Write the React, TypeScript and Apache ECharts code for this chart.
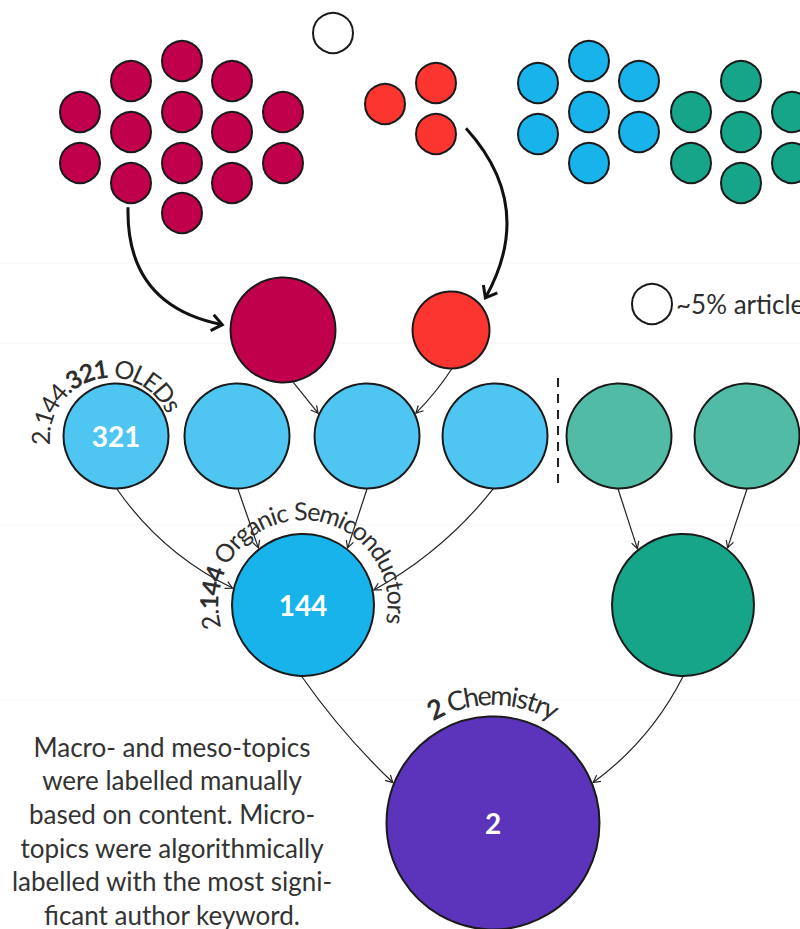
import React, { useEffect, useRef } from "react";
import * as echarts from "echarts";

// ---------- DATA ----------
// micro-topic clusters (small circles)
const crimsonX = [182, 131, 232, 80, 182, 283, 131, 232, 80, 182, 283, 131, 232, 182];
const crimsonY = [61, 81, 81, 112, 112, 112, 132, 132, 163, 163, 163, 183, 183, 213];
const redX = [385, 436, 436];
const redY = [104, 83, 134];
const blueX = [538, 589, 639, 589, 538, 639, 589];
const blueY = [83, 61, 81, 112, 134, 132, 163];
const greenX = [691, 691, 741, 741, 741, 792, 792];
const greenY = [112, 163, 81, 132, 183, 112, 163];
const whiteX = [333];
const whiteY = [33];
const smallR = 20.5;

// macro / meso topics
const topicIds = ["crimsonBig", "redBig", "oleds", "mid2", "mid3", "mid4", "green1", "green2", "semis", "greenBig", "chem"];
const topicX = [283, 451, 116, 237, 367, 495, 619, 747, 303, 683, 493];
const topicY = [330, 330, 436, 436, 436, 436, 436, 436, 605, 605, 823];
const topicR = [53, 39, 53, 53, 53, 53, 53, 53, 71.5, 71.5, 107];
const topicGroup = ["crimson", "red", "lightBlue", "lightBlue", "lightBlue", "lightBlue", "lightGreen", "lightGreen", "blue", "green", "purple"];
const topicLabel = ["", "", "321", "", "", "", "", "", "144", "", "2"];

// links (arrows)
const linkFrom = ["crimson-11", "red-2", "crimsonBig", "redBig", "oleds", "mid2", "mid3", "mid4", "green1", "green2", "semis", "greenBig"];
const linkTo = ["crimsonBig", "redBig", "mid3", "mid3", "semis", "semis", "semis", "semis", "greenBig", "greenBig", "chem", "chem"];
const linkStartAngle = [97, -11, 79, 89, 89, 89, 90, 92, 91, 90, 91, 90];
const linkEndAngle = [185, -43, 205, -25, 193.5, 232, -52, -12, 231, -52, 202, -22];
const linkBend = [0.42, -0.36, 0, -0.05, 0.13, 0, 0, -0.1, 0, 0, 0.05, -0.12];
const linkHeavy = [1, 1, 0, 0, 0, 0, 0, 0, 0, 0, 0, 0];

// curved labels
const arcLabelNode = ["oleds", "semis", "chem"];
const arcLabelParts: [string, boolean][][] = [
  [["2.144.", false], ["321", true], [" OLEDs", false]],
  [["2.", false], ["144", true], [" Organic Semiconductors", false]],
  [["2", true], [" Chemistry", false]],
];

const legendText = "~5% articles";
const noteLines = [
  "Macro- and meso-topics",
  "were labelled manually",
  "based on content. Micro-",
  "topics were algorithmically",
  "labelled with the most signi-",
  "ficant author keyword.",
];

// ---------- STYLE ----------
const colors: Record<string, string> = {
  crimson: "#c1004b",
  red: "#fc3531",
  blue: "#19b3eb",
  green: "#17a589",
  white: "#ffffff",
  lightBlue: "#4fc5f1",
  lightGreen: "#51bba6",
  purple: "#5c34bc",
};
const FONT = "Lato, 'Open Sans', sans-serif";
const TEXT = "#2e2e2e";

type Node = { id: string; x: number; y: number; r: number; group: string; label: string };

function buildNodes(): Node[] {
  const out: Node[] = [];
  const add = (name: string, xs: number[], ys: number[]) =>
    xs.forEach((x, i) => out.push({ id: `${name}-${i}`, x, y: ys[i], r: smallR, group: name, label: "" }));
  add("white", whiteX, whiteY);
  add("crimson", crimsonX, crimsonY);
  add("red", redX, redY);
  add("blue", blueX, blueY);
  add("green", greenX, greenY);
  topicIds.forEach((id, i) =>
    out.push({ id, x: topicX[i], y: topicY[i], r: topicR[i], group: topicGroup[i], label: topicLabel[i] })
  );
  return out;
}

const arcLayout = [
  { dx: -5, dy: 3, R: 62.5, start: 175, end: 336, size: 25 },
  { dx: 0, dy: 0, R: 86, start: 165, end: 372, size: 25 },
  { dx: 0, dy: 0, R: 119, start: 240, end: 300, size: 27 },
];

export default function App() {
  const ref = useRef<HTMLDivElement>(null);
  useEffect(() => {
    if (!ref.current) return;
    const chart = echarts.init(ref.current, undefined, { renderer: "svg" });
    const nodes = buildNodes();
    const nodeMap: Record<string, Node> = {};
    nodes.forEach((n) => (nodeMap[n.id] = n));
    const rad = (d: number) => (d * Math.PI) / 180;

    chart.setOption({
      animation: false,
      backgroundColor: "#ffffff",
      grid: { left: 0, right: 0, top: 0, bottom: 0 },
      xAxis: { type: "value", min: 0, max: 800, show: false },
      yAxis: { type: "value", min: 0, max: 929, inverse: true, show: false },
      series: [
        {
          type: "custom",
          coordinateSystem: "cartesian2d",
          silent: true,
          clip: false,
          z: 1,
          encode: { x: [0, 2], y: [1, 3] },
          data: linkFrom.map((f, i) => [nodeMap[f].x, nodeMap[f].y, nodeMap[linkTo[i]].x, nodeMap[linkTo[i]].y, i]),
          renderItem: (params: any, api: any) => {
            const i = api.value(4);
            const f = nodeMap[linkFrom[i]];
            const t = nodeMap[linkTo[i]];
            const heavy = linkHeavy[i] === 1;
            const g0 = heavy ? (i === 0 ? 4 : 10) : 0;
            const g1 = heavy ? 8 : 1;
            const a0 = rad(linkStartAngle[i]);
            const a1 = rad(linkEndAngle[i]);
            const sp = api.coord([f.x + (f.r + g0) * Math.cos(a0), f.y + (f.r + g0) * Math.sin(a0)]);
            const ep = api.coord([t.x + (t.r + g1) * Math.cos(a1), t.y + (t.r + g1) * Math.sin(a1)]);
            const vx = ep[0] - sp[0];
            const vy = ep[1] - sp[1];
            const len = Math.hypot(vx, vy);
            const px = -vy / len;
            const py = vx / len;
            const b = linkBend[i] * len;
            const cx = (sp[0] + ep[0]) / 2 + px * b;
            const cy = (sp[1] + ep[1]) / 2 + py * b;
            let dx = ep[0] - cx;
            let dy = ep[1] - cy;
            const dl = Math.hypot(dx, dy) || 1;
            dx /= dl;
            dy /= dl;
            const L = heavy ? 13 : 8;
            const ang = rad(heavy ? 38 : 28);
            const rot = (a: number) => [dx * Math.cos(a) - dy * Math.sin(a), dx * Math.sin(a) + dy * Math.cos(a)];
            const l = rot(ang);
            const r = rot(-ang);
            const stroke = heavy ? "#111" : "#222";
            const lw = heavy ? 3 : 1.2;
            return {
              type: "group",
              children: [
                {
                  type: "bezierCurve",
                  shape: { x1: sp[0], y1: sp[1], x2: ep[0], y2: ep[1], cpx1: cx, cpy1: cy },
                  style: { stroke, lineWidth: lw, fill: "none" },
                },
                {
                  type: "polyline",
                  shape: {
                    points: [
                      [ep[0] - L * l[0], ep[1] - L * l[1]],
                      [ep[0], ep[1]],
                      [ep[0] - L * r[0], ep[1] - L * r[1]],
                    ],
                  },
                  style: { stroke, lineWidth: lw, fill: "none", lineJoin: "miter" },
                },
              ],
            };
          },
        },
        {
          type: "scatter",
          silent: true,
          z: 2,
          symbol: "circle",
          symbolSize: (v: number[]) => v[2] * 2 - 1,
          emphasis: { disabled: true },
          data: nodes.map((n) => ({
            value: [n.x, n.y, n.r],
            itemStyle: { color: colors[n.group], borderColor: "#1a1a1a", borderWidth: 2, opacity: 1 },
            label: {
              show: n.label !== "",
              position: "inside",
              formatter: n.label,
              color: "#ffffff",
              fontFamily: FONT,
              fontWeight: "bold",
              fontSize: 28,
            },
          })),
        },
      ],
    });

    // ---- graphic overlays (computed through the grid's coordinate conversion) ----
    const toPx = (x: number, y: number) => chart.convertToPixel({ gridIndex: 0 }, [x, y]) as number[];
    const ctx = document.createElement("canvas").getContext("2d")!;
    const measure = (s: string, size: number, bold: boolean) => {
      ctx.font = `${bold ? "bold" : "normal"} ${size}px Lato`;
      return ctx.measureText(s).width;
    };

    const graphics: any[] = [];

    // faint band separators
    [263, 343, 525, 700].forEach((y) => {
      const a = toPx(0, y);
      const b = toPx(800, y);
      graphics.push({
        type: "line",
        silent: true,
        z: 0,
        shape: { x1: a[0], y1: a[1], x2: b[0], y2: b[1] },
        style: { stroke: "#f6f6f6", lineWidth: 1 },
      });
    });

    // dashed divider
    {
      const a = toPx(558, 378);
      const b = toPx(558, 490);
      graphics.push({
        type: "line",
        shape: { x1: a[0], y1: a[1], x2: b[0], y2: b[1] },
        style: { stroke: "#222", lineWidth: 2, lineDash: [9, 7] },
      });
    }

    // curved labels
    arcLabelNode.forEach((id, k) => {
      const n = nodeMap[id];
      const lay = arcLayout[k];
      const c = toPx(n.x + lay.dx, n.y + lay.dy);
      const chars: { ch: string; bold: boolean; w: number }[] = [];
      arcLabelParts[k].forEach(([txt, bold]) => {
        for (const ch of txt) chars.push({ ch, bold, w: measure(ch, lay.size, bold) });
      });
      const total = chars.reduce((s, c2) => s + c2.w, 0);
      const arcLen = lay.R * rad(lay.end - lay.start);
      const kScale = arcLen / total;
      let cum = 0;
      const Rm = lay.R + 0.35 * lay.size;
      chars.forEach((c2) => {
        const s = (cum + c2.w / 2) * kScale;
        cum += c2.w;
        if (c2.ch === " ") return;
        const th = rad(lay.start) + s / lay.R;
        graphics.push({
          type: "text",
          x: c[0] + Rm * Math.cos(th),
          y: c[1] + Rm * Math.sin(th),
          rotation: rad(270) - th,
          z: 10,
          style: {
            text: c2.ch,
            fill: TEXT,
            fontFamily: FONT,
            fontSize: lay.size,
            fontWeight: c2.bold ? "bold" : "normal",
            align: "center",
            verticalAlign: "middle",
          },
        });
      });
    });

    // legend
    {
      const p = toPx(652, 304);
      graphics.push({
        type: "circle",
        shape: { cx: p[0], cy: p[1], r: 20 },
        style: { fill: "#fff", stroke: "#1a1a1a", lineWidth: 2 },
      });
      graphics.push({
        type: "text",
        x: p[0] + 24,
        y: p[1],
        style: { text: legendText, fill: TEXT, fontFamily: FONT, fontSize: 26, align: "left", verticalAlign: "middle" },
      });
    }

    // note
    {
      const p = toPx(172, 730);
      graphics.push({
        type: "text",
        x: p[0],
        y: p[1],
        style: {
          text: noteLines.join("\n"),
          fill: "#333",
          fontFamily: FONT,
          fontSize: 26,
          lineHeight: 33.6,
          align: "center",
          verticalAlign: "top",
        },
      });
    }

    chart.setOption({ graphic: { elements: graphics } });

    return () => chart.dispose();
  }, []);

  return <div ref={ref} style={{ position: "absolute", left: 0, top: 0, width: 800, height: 929 }} />;
}
